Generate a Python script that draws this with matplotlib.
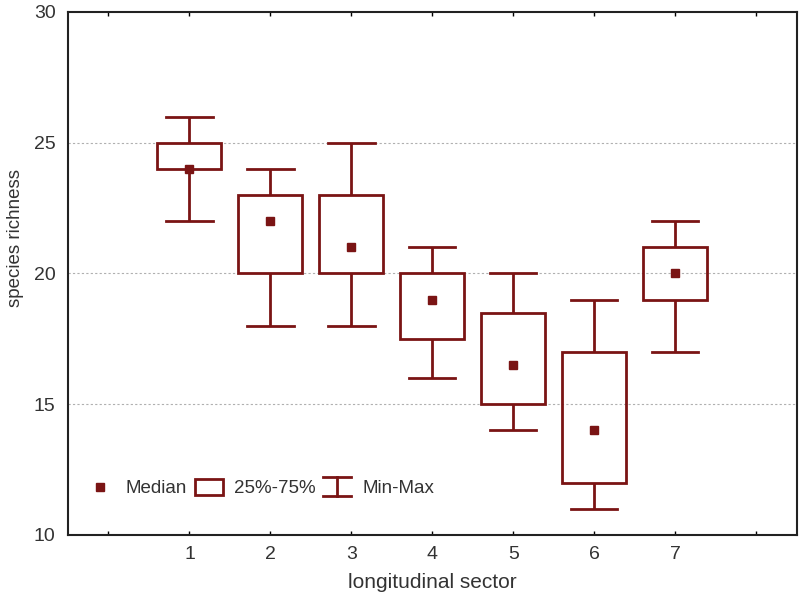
import matplotlib
matplotlib.use("Agg")
import matplotlib.pyplot as plt
from matplotlib.patches import Rectangle
from matplotlib.lines import Line2D
from matplotlib.legend_handler import HandlerBase

plt.rcParams['font.family'] = ['Liberation Sans', 'DejaVu Sans']

sectors = [1, 2, 3, 4, 5, 6, 7]
mins = [22, 18, 18, 16, 14, 11, 17]
q1 = [24, 20, 20, 17.5, 15, 12, 19]
medians = [24, 22, 21, 19, 16.5, 14, 20]
q3 = [25, 23, 23, 20, 18.5, 17, 21]
maxs = [26, 24, 25, 21, 20, 19, 22]

color = '#7a1414'
lw = 2.0
box_w = 0.79
cap_w = 0.57

fig = plt.figure(figsize=(8, 5.99), dpi=100)
ax = fig.add_axes([0.085, 0.107, 0.911, 0.873])

for x, lo, a, m, b, hi in zip(sectors, mins, q1, medians, q3, maxs):
    ax.add_patch(Rectangle((x - box_w / 2, a), box_w, b - a, fill=False,
                           edgecolor=color, linewidth=lw, zorder=3))
    ax.plot([x, x], [b, hi], color=color, lw=lw, zorder=3, solid_capstyle='butt')
    ax.plot([x, x], [lo, a], color=color, lw=lw, zorder=3, solid_capstyle='butt')
    ax.plot([x - cap_w / 2, x + cap_w / 2], [hi, hi], color=color, lw=lw, zorder=3)
    ax.plot([x - cap_w / 2, x + cap_w / 2], [lo, lo], color=color, lw=lw, zorder=3)
    ax.plot([x], [m], marker='s', ms=6, color=color, mec=color, zorder=4, ls='none')

ax.set_xlim(-0.5, 8.5)
ax.set_ylim(10, 30)
ax.set_xticks(range(0, 9))
ax.set_xticklabels([''] + [str(s) for s in sectors] + [''])
ax.set_yticks([10, 15, 20, 25, 30])
ax.tick_params(axis='both', direction='in', length=3, width=1, labelsize=14,
               top=True, right=False)
ax.tick_params(axis='x', pad=8)
ax.tick_params(axis='y', length=0, pad=9)
for y in [15, 20, 25]:
    ax.axhline(y, color='#b0b0b0', lw=0.8, ls=(0, (2, 2)), zorder=1)
for s in ax.spines.values():
    s.set_linewidth(1.5)
    s.set_color('#222222')

ax.set_xlabel('longitudinal sector', fontsize=15, labelpad=7, color='#333333')
ax.set_ylabel('species richness', fontsize=13.5, color='#333333')
ax.yaxis.set_label_coords(-0.061, 0.568)
for lab in ax.get_xticklabels() + ax.get_yticklabels():
    lab.set_color('#333333')


class WhiskerHandler(HandlerBase):
    def create_artists(self, legend, orig_handle, xdescent, ydescent, width, height, fontsize, trans):
        cx = width / 2 - xdescent
        y0 = -ydescent - 2
        y1 = height - ydescent + 2
        l1 = Line2D([cx, cx], [y0, y1], color=color, lw=lw, transform=trans)
        l2 = Line2D([0 - xdescent, width - xdescent], [y1, y1], color=color, lw=lw, transform=trans)
        l3 = Line2D([0 - xdescent, width - xdescent], [y0, y0], color=color, lw=lw, transform=trans)
        return [l1, l2, l3]


class BoxHandler(HandlerBase):
    def create_artists(self, legend, orig_handle, xdescent, ydescent, width, height, fontsize, trans):
        r = Rectangle((-xdescent, -ydescent - 1), width, height + 2, fill=False,
                      edgecolor=color, linewidth=lw, transform=trans)
        return [r]


class BoxKey:
    pass


class WhiskerKey:
    pass


h_med = Line2D([], [], marker='s', ms=6, color=color, ls='none')
leg = ax.legend([h_med, BoxKey(), WhiskerKey()], ['Median', '25%-75%', 'Min-Max'],
                handler_map={BoxKey: BoxHandler(), WhiskerKey: WhiskerHandler()},
                loc='lower left', bbox_to_anchor=(0.002, 0.04), ncol=3, frameon=False,
                fontsize=13.5, handlelength=1.5, handletextpad=0.6, columnspacing=0.4)
for t in leg.get_texts():
    t.set_color('#333333')

fig.savefig('out.png', dpi=100)
